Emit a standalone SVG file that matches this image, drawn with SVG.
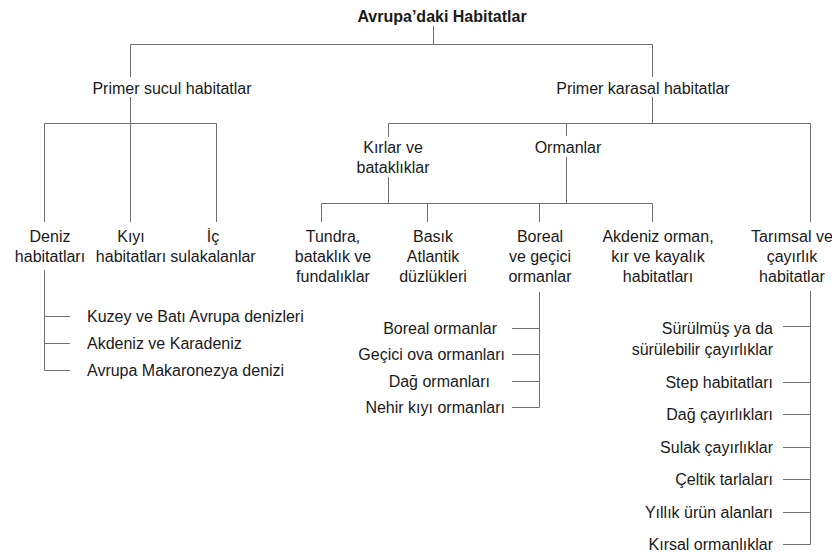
<svg xmlns="http://www.w3.org/2000/svg" width="832" height="558" viewBox="0 0 832 558">
<style>
text{font-family:"Liberation Sans",Arial,sans-serif;font-size:16px;fill:#1a1a1a}
.title{font-weight:bold}
.c{text-anchor:middle}
.e{text-anchor:end}
#connectors path{fill:none;stroke:#707070;stroke-width:1}
</style>
<rect width="832" height="558" fill="#ffffff"/>
<g id="connectors">
<path d="M433.5 26V44.5M130.5 44.5H652.5"/>
<path d="M130.5 44.5V77M130.5 97V123.5"/>
<path d="M652.5 44.5V77M652.5 97V123.5"/>
<path d="M44.5 123.5H216.5M44.5 123.5V222M130.5 123.5V222M216.5 123.5V222"/>
<path d="M388.5 123.5H810.5M810.5 123.5V222"/>
<path d="M388.5 123.5V137M388.5 177V203.5"/>
<path d="M566.5 123.5V136M566.5 157V203.5"/>
<path d="M321.5 203.5H652.5M321.5 203.5V222M427.5 203.5V222M539.5 203.5V222M652.5 203.5V222"/>
<path d="M44.5 270V370.5M44.5 316.5H70M44.5 343.5H70M44.5 370.5H70"/>
<path d="M539.5 292V407.5M512 328.5H539.5M512 354.5H539.5M512 381.5H539.5M512 407.5H539.5"/>
<path d="M810.5 291V544.5M783 326.5H810.5M783 382.5H810.5M783 414.5H810.5M783 447.5H810.5M783 479.5H810.5M783 512.5H810.5M783 544.5H810.5"/>
</g>
<g id="root"><text class="title c" x="442" y="22">Avrupa’daki Habitatlar</text></g>
<g id="primer-sucul"><text class="c" x="172" y="94">Primer sucul habitatlar</text></g>
<g id="primer-karasal"><text class="c" x="643" y="94">Primer karasal habitatlar</text></g>
<g id="kirlar"><text class="c" x="393" y="153">Kırlar ve</text><text class="c" x="393" y="173">bataklıklar</text></g>
<g id="ormanlar"><text class="c" x="568" y="153">Ormanlar</text></g>
<g id="deniz"><text class="c" x="50" y="242">Deniz</text><text class="c" x="50" y="262">habitatları</text></g>
<g id="kiyi"><text class="c" x="131" y="242">Kıyı</text><text class="c" x="131" y="262">habitatları</text></g>
<g id="ic"><text class="c" x="213" y="242">İç</text><text class="c" x="213" y="262">sulakalanlar</text></g>
<g id="tundra"><text class="c" x="333" y="242">Tundra,</text><text class="c" x="333" y="262">bataklık ve</text><text class="c" x="333" y="282">fundalıklar</text></g>
<g id="basik"><text class="c" x="433" y="242">Basık</text><text class="c" x="433" y="262">Atlantik</text><text class="c" x="433" y="282">düzlükleri</text></g>
<g id="boreal"><text class="c" x="540" y="242">Boreal</text><text class="c" x="540" y="262">ve geçici</text><text class="c" x="540" y="282">ormanlar</text></g>
<g id="akdeniz"><text class="c" x="658" y="242">Akdeniz orman,</text><text class="c" x="658" y="262">kır ve kayalık</text><text class="c" x="658" y="282">habitatları</text></g>
<g id="tarimsal"><text class="c" x="792" y="242">Tarımsal ve</text><text class="c" x="792" y="262">çayırlık</text><text class="c" x="792" y="282">habitatlar</text></g>
<g id="deniz-sub">
<text x="87" y="322">Kuzey ve Batı Avrupa denizleri</text>
<text x="87" y="349">Akdeniz ve Karadeniz</text>
<text x="87" y="376">Avrupa Makaronezya denizi</text>
</g>
<g id="boreal-sub">
<text class="e" x="497" y="334">Boreal ormanlar</text>
<text class="e" x="505" y="360">Geçici ova ormanları</text>
<text class="e" x="490" y="387">Dağ ormanları</text>
<text class="e" x="505" y="413">Nehir kıyı ormanları</text>
</g>
<g id="tarimsal-sub">
<text class="e" x="773" y="334">Sürülmüş ya da</text>
<text class="e" x="773" y="355">sürülebilir çayırlıklar</text>
<text class="e" x="773" y="388">Step habitatları</text>
<text class="e" x="773" y="420">Dağ çayırlıkları</text>
<text class="e" x="773" y="453">Sulak çayırlıklar</text>
<text class="e" x="773" y="485">Çeltik tarlaları</text>
<text class="e" x="773" y="518">Yıllık ürün alanları</text>
<text class="e" x="773" y="550">Kırsal ormanlıklar</text>
</g>
</svg>
